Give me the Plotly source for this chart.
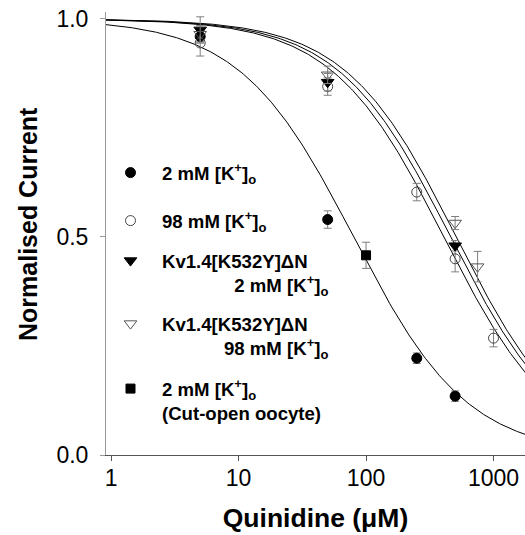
import numpy as np
import plotly.graph_objects as go

# ---------------- data ----------------
conc_2mM = [5, 50, 250, 500]
curr_2mM = [0.960, 0.540, 0.222, 0.135]
err_2mM = [0.012, 0.020, 0.012, 0.012]

conc_98mM = [5, 50, 250, 500, 1000]
curr_98mM = [0.945, 0.845, 0.603, 0.450, 0.268]
err_98mM = [0.030, 0.020, 0.020, 0.030, 0.020]

conc_mut_2mM = [5, 50, 500]
curr_mut_2mM = [0.975, 0.855, 0.480]
err_mut_2mM = [0.030, 0.020, 0.012]

conc_mut_98mM = [5, 50, 500, 750]
curr_mut_98mM = [0.965, 0.872, 0.532, 0.432]
err_mut_98mM = [0.020, 0.020, 0.015, 0.035]

conc_cut = [100]
curr_cut = [0.458]
err_cut = [0.030]

# Hill fits: (IC50 in uM, Hill coefficient)
fit_2mM = (80.0, 0.97)
fit_98mM = (408.0, 0.99)
fit_mut_2mM = (461.0, 0.99)
fit_mut_98mM = (510.0, 1.0)

x_ticks = [1, 10, 100, 1000]
y_ticks = [0.0, 0.5, 1.0]

FONT = "Liberation Sans, Arial, sans-serif"

# ---------------- figure ----------------
fig = go.Figure()

xfit = np.logspace(np.log10(0.88), np.log10(1900), 300)
for ic50, nh in (fit_2mM, fit_98mM, fit_mut_2mM, fit_mut_98mM):
    fig.add_trace(go.Scatter(
        x=xfit, y=1.0 / (1.0 + (xfit / ic50) ** nh),
        mode="lines", line=dict(color="black", width=1),
        showlegend=False, hoverinfo="skip"))

K = "[K<sup>+</sup>]<sub>o</sub>"
series = [
    (conc_2mM, curr_2mM, err_2mM, "circle", "black", 10,
     "2 mM " + K, "legend"),
    (conc_98mM, curr_98mM, err_98mM, "circle-open", "#444444", 10,
     "98 mM " + K, "legend2"),
    (conc_mut_2mM, curr_mut_2mM, err_mut_2mM, "triangle-down", "black", 11,
     "Kv1.4[K532Y]\u0394N<br>" + "\u00a0" * 14 + "2 mM " + K, "legend3"),
    (conc_mut_98mM, curr_mut_98mM, err_mut_98mM, "triangle-down-open", "#555555", 11,
     "Kv1.4[K532Y]\u0394N<br>" + "\u00a0" * 12 + "98 mM " + K, "legend4"),
    (conc_cut, curr_cut, err_cut, "square", "black", 9,
     "2 mM " + K + "<br>(Cut-open oocyte)", "legend5"),
]

for xs, ys, es, sym, col, sz, name, lg in series:
    fig.add_trace(go.Scatter(
        x=xs, y=ys, mode="markers", name=name, legend=lg,
        marker=dict(symbol=sym, size=sz, color=col,
                    line=dict(color=col, width=1)),
        error_y=dict(type="data", array=es, visible=True,
                     color="#7f7f7f", thickness=1, width=4),
    ))

# plot area in pixels
L, T, W, H = 106, 12, 419, 443
def px_to_paper(xp, yp):
    return (xp - L) / W, (T + H - yp) / H

legend_rows = [172, 220, 260, 323, 388]
legend_common = dict(xanchor="left", yanchor="top", bgcolor="rgba(0,0,0,0)",
                     borderwidth=0, itemwidth=53, valign="top",
                     font=dict(family=FONT, size=18.6, color="black", weight="bold"))
legends = {}
for i, yc in enumerate(legend_rows):
    px, py = px_to_paper(99, yc - 18)
    key = "legend" if i == 0 else f"legend{i+1}"
    legends[key] = dict(x=px, y=py, **legend_common)

ytx, yty = px_to_paper(28, 224)

fig.update_layout(
    width=525, height=535,
    margin=dict(l=L, r=0, t=T, b=535 - T - H),
    paper_bgcolor="white", plot_bgcolor="white",
    font=dict(family=FONT, color="black"),
    showlegend=True,
    annotations=[dict(
        text="Normalised Current", textangle=-90, showarrow=False,
        xref="paper", yref="paper", x=ytx, y=yty,
        xanchor="center", yanchor="middle",
        font=dict(family=FONT, size=25, color="black", weight="bold"))],
    **legends,
)

fig.update_xaxes(
    type="log", range=[-0.04, 3.247],
    tickvals=x_ticks, ticktext=[str(v) for v in x_ticks],
    ticks="outside", ticklen=5, tickcolor="#555555",
    showline=True, linecolor="#555555", linewidth=1,
    showgrid=False, zeroline=False, ticklabelstandoff=-3,
    tickfont=dict(family=FONT, size=23, color="black"),
    title=dict(text="Quinidine (\u03bcM)", standoff=18,
               font=dict(family=FONT, size=26.5, color="black", weight="bold")),
)
fig.update_yaxes(
    range=[0, 1.016],
    tickvals=y_ticks, tickformat=".1f",
    ticks="outside", ticklen=5, tickcolor="#999999",
    showline=True, linecolor="#999999", linewidth=1,
    showgrid=False, zeroline=False, ticklabelstandoff=7,
    tickfont=dict(family=FONT, size=23, color="black"),
)

fig.write_html("out.html", config={"displayModeBar": False},
               post_script="document.body.style.margin='0px';")
